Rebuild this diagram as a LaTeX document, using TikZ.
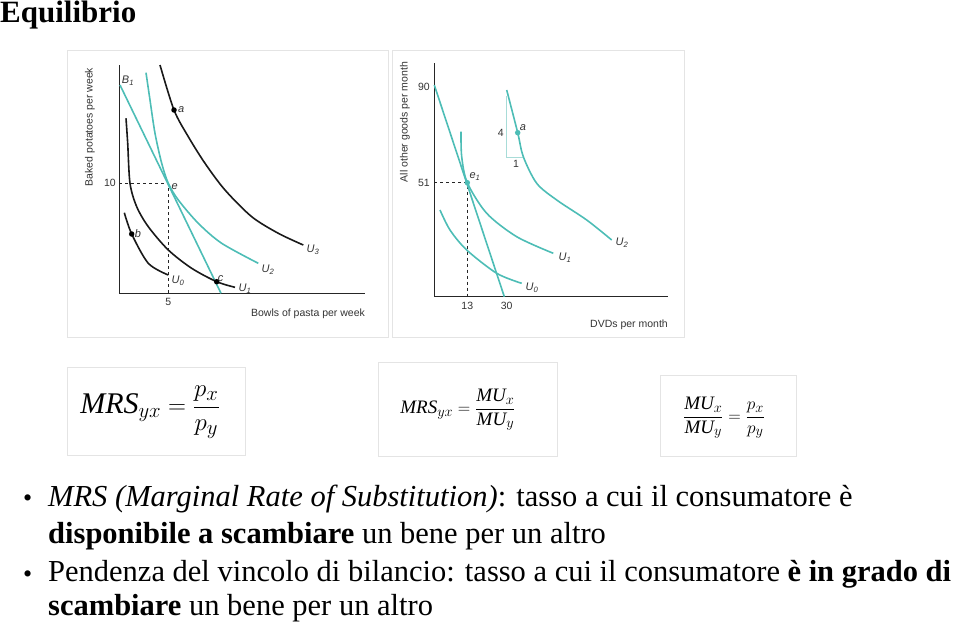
\documentclass[tikz,border=0pt]{standalone}
\usepackage{fontspec}
\setmainfont{Liberation Serif}
\newfontfamily\grafont{Liberation Sans}
\usetikzlibrary{positioning}
\definecolor{curveteal}{HTML}{4DBDB6}
\definecolor{lightteal}{HTML}{A8DCD8}
\definecolor{panelgray}{HTML}{E4E4E4}

\begin{document}
\begin{tikzpicture}[x=1pt,y=-1pt,
    panel/.style={draw=panelgray,line width=0.8pt},
    ax/.style={draw=black!85,line width=0.7pt},
    blk/.style={line width=1.6pt,black!90},
    tl/.style={line width=1.6pt,curveteal},
    dsh/.style={dashed,line width=0.6pt,black!85},
    gl/.style={font=\grafont\fontsize{10.5}{11}\selectfont,text=black!80,inner sep=1pt},
    cl/.style={font=\grafont\itshape\fontsize{11}{12}\selectfont,text=black!80,inner sep=1pt},
    bdot/.style={circle,fill=black,inner sep=0pt,minimum size=5.5pt},
    tdot/.style={circle,fill=curveteal,inner sep=0pt,minimum size=5.5pt},
    ln/.style={anchor=base west,inner sep=0pt,font=\fontsize{30.5}{32}\selectfont}]
  \useasboundingbox (0,0) rectangle (960,626);
  \node[anchor=base west,inner sep=0pt,font=\bfseries\fontsize{31}{34}\selectfont] (title) at (0,23) {Equilibrio};
  % left graph: pasta and potatoes
  \draw[panel] (67,50) rectangle (388,337);
  \coordinate (oL) at (119.3,293.3);
  \draw[ax] (119.3,65) -- (oL) -- (365,293.3);
  \coordinate (e) at (168.3,183.3);
  \draw[dsh] (e -| oL) -- (e) -- (e |- oL);
  \draw[tl] (120,85) -- (221,293.3);
  \draw[tl] plot[smooth] coordinates {(146,72.7) (150,100) (155,133.3) (161.7,163.3) (168.3,183.3) (178.3,200) (198.3,223.3) (221.7,243.3) (258.3,263.3)};
  \draw[blk] plot[smooth] coordinates {(160,65) (174,110) (188.3,136.7) (205,163.3) (225,190) (251.7,216.7) (278.3,233.3) (303.3,245)};
  \draw[blk] plot[smooth] coordinates {(126,118.3) (127.7,143.3) (130,183.3) (136.7,206.7) (148.3,226.7) (168.3,250) (191.7,268.3) (216.7,281.7) (235,287.3)};
  \draw[blk] plot[smooth] coordinates {(124.3,212.7) (131.7,234) (148.3,263.3) (168.3,275)};
  \coordinate (a) at (174,110); \coordinate (b) at (131.7,234); \coordinate (c) at (216.7,281.7);
  \node[bdot] at (a) {}; \node[bdot] at (b) {}; \node[bdot] at (c) {};
  \node[cl,anchor=west] at ([xshift=3pt]a) {a};
  \node[cl,anchor=west] at ([xshift=2pt]b) {b};
  \node[cl,anchor=south west] at ([yshift=-1pt]c) {c};
  \node[cl,anchor=west] at ([xshift=2pt,yshift=-3pt]e) {e};
  \node[cl] at (128,81) {B\textsubscript{1}};
  \node[cl] at (313,250) {U\textsubscript{3}};
  \node[cl] at (268,270) {U\textsubscript{2}};
  \node[cl] at (245,289) {U\textsubscript{1}};
  \node[cl] at (178,281) {U\textsubscript{0}};
  \node[gl,anchor=east] at (117,183.3) {10};
  \node[gl] at (168.3,302) {5};
  \node[gl,rotate=90] at (90,127) {Baked potatoes per week};
  \node[gl] at (308,314) {Bowls of pasta per week};
  % right graph: DVDs and other goods
  \draw[panel] (392,50) rectangle (684,337);
  \coordinate (oR) at (434.3,296.7);
  \draw[ax] (434.3,63) -- (oR) -- (667.7,296.7);
  \coordinate (e1) at (467.3,182.7);
  \draw[dsh] (e1 -| oR) -- (e1) -- (e1 |- oR);
  \draw[lightteal,line width=1pt] (506.7,96) -- (506.7,157.7) -- (523.3,157.7);
  \draw[tl] (434.3,85) -- (504.3,296.7);
  \draw[tl] plot[smooth] coordinates {(506.7,90) (517.7,132.7) (523.3,156.7) (536.7,183.3) (556.7,200) (586.7,220) (611.7,240)};
  \draw[tl] plot[smooth] coordinates {(461,131.7) (461.7,156.7) (467.3,182.7) (486.7,213.3) (516.7,236.7) (553.3,253.3)};
  \draw[tl] plot[smooth] coordinates {(440,210) (450,230) (466.7,250) (496.7,273.3) (521.7,283.3)};
  \coordinate (a2) at (517.7,132.7);
  \node[tdot] at (e1) {}; \node[tdot] at (a2) {};
  \node[cl,anchor=south west] at ([xshift=1pt,yshift=1pt]e1) {e\textsubscript{1}};
  \node[cl,anchor=south west] at ([xshift=1pt,yshift=1pt]a2) {a};
  \node[gl,anchor=east] at (505,132.7) {4};
  \node[gl] at (516,164) {1};
  \node[cl] at (622,243) {U\textsubscript{2}};
  \node[cl] at (565,258) {U\textsubscript{1}};
  \node[cl] at (532,288) {U\textsubscript{0}};
  \node[gl,anchor=east] at (431,86.7) {90};
  \node[gl,anchor=east] at (431,182.7) {51};
  \node[gl] at (467.3,306) {13};
  \node[gl] at (506.7,306) {30};
  \node[gl,rotate=90] at (405,122) {All other goods per month};
  \node[gl] at (629,325) {DVDs per month};
  % formula boxes
  \draw[panel] (67,367) rectangle (245,455);
  \node[font=\fontsize{30}{32}\selectfont] (f1) at (150,412) {$\displaystyle \mathit{MRS}_{yx}=\frac{p_x}{p_y}$};
  \draw[panel] (378,362) rectangle (557,456);
  \node[font=\fontsize{19}{21}\selectfont] (f2) at (458,410) {$\displaystyle \mathit{MRS}_{yx}=\frac{\mathit{MU}_x}{\mathit{MU}_y}$};
  \draw[panel] (660,375) rectangle (796,456);
  \node[font=\fontsize{19}{21}\selectfont] (f3) at (724,418) {$\displaystyle \frac{\mathit{MU}_x}{\mathit{MU}_y}=\frac{p_x}{p_y}$};
  % bullets
  \node[ln,font=\fontsize{26}{26}\selectfont] (b1) at (23,506) {•};
  \node[ln,font=\fontsize{26}{26}\selectfont] (b2) at (23,582) {•};
  \node[ln] (l1) at (48,506) {\textit{MRS (Marginal Rate of Substitution)}: tasso a cui il consumatore è};
  \node[ln] (l2) at (48,543) {\textbf{disponibile a scambiare} un bene per un altro};
  \node[ln] (l3) at (48,581) {Pendenza del vincolo di bilancio: tasso a cui il consumatore \textbf{è in grado di}};
  \node[ln] (l4) at (48,615) {\textbf{scambiare} un bene per un altro};
\end{tikzpicture}
\end{document}
